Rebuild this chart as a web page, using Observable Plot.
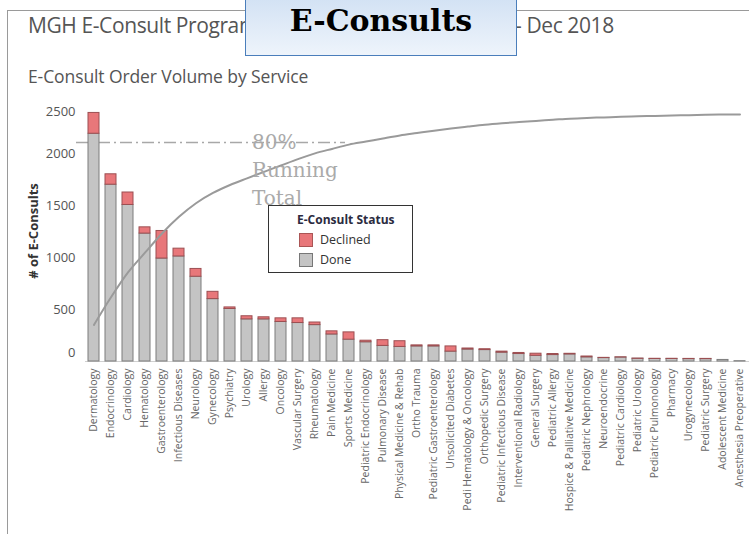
<!DOCTYPE html>
<html><head><meta charset="utf-8">
<script src="https://cdn.jsdelivr.net/npm/d3@7"></script>
<script src="https://cdn.jsdelivr.net/npm/@observablehq/plot@0.6"></script>
<style>
body{margin:0;background:#fff;}
#wrap{position:relative;width:749px;height:534px;overflow:hidden;font-family:"Open Sans",sans-serif;background:#fff;}
#chart{position:absolute;left:0;top:0;}
.frame-top{position:absolute;left:7px;top:10px;width:742px;height:0;border-top:1px solid #9a9a9a;}
.frame-left{position:absolute;left:7px;top:10px;width:0;height:524px;border-left:1px solid #9a9a9a;}
.title{position:absolute;top:11px;font-size:21px;color:#555;white-space:nowrap;letter-spacing:-0.4px;}
.subtitle{position:absolute;left:28px;top:64px;font-size:17.5px;color:#555;white-space:nowrap;letter-spacing:-0.1px;}
.badge{position:absolute;left:245px;top:-2px;width:272px;height:58px;border:1px solid #4a7ebb;
  background:linear-gradient(#d3e2f4,#eef4fb);box-sizing:border-box;text-align:center;
  font-family:"DejaVu Serif",serif;font-weight:bold;font-size:30px;line-height:44px;color:#000;}
.ylabel{position:absolute;left:33px;top:231px;transform:translate(-50%,-50%) rotate(-90deg);font-size:13px;font-weight:bold;color:#333;white-space:nowrap;}
.annot{position:absolute;left:252px;top:128px;font-family:"DejaVu Serif",serif;font-size:20px;line-height:28px;color:#aaa;}
.legend{position:absolute;left:268px;top:205px;width:145px;height:68px;border:1px solid #333;background:#fff;box-sizing:border-box;font-size:12.5px;color:#333;}
.legend .lt{position:absolute;left:28px;top:5px;font-weight:bold;font-size:12px;color:#2b2b3f;}
.legend .row{position:absolute;left:30px;display:flex;align-items:center;}
.legend .sw{width:12px;height:12px;border:1px solid #777;margin-right:7px;}
</style></head>
<body>
<div id="wrap">
  <div class="frame-top"></div>
  <div class="frame-left"></div>
  <div id="chart"></div>
  <div class="title" style="left:28px">MGH E-Consult Program</div>
  <div class="title" style="left:515px">- Dec 2018</div>
  <div class="badge">E-Consults</div>
  <div class="subtitle">E-Consult Order Volume by Service</div>
  <div class="ylabel"># of E-Consults</div>
  <div class="annot">80%<br>Running<br>Total</div>
  <div class="legend">
    <div class="lt">E-Consult Status</div>
    <div class="row" style="top:25px"><div class="sw" style="background:#e8777a;border-color:#a55"></div>Declined</div>
    <div class="row" style="top:45px"><div class="sw" style="background:#c4c4c4"></div>Done</div>
  </div>
</div>
<script>
const services = ["Dermatology","Endocrinology","Cardiology","Hematology","Gastroenterology","Infectious Diseases","Neurology","Gynecology","Psychiatry","Urology","Allergy","Oncology","Vascular Surgery","Rheumatology","Pain Medicine","Sports Medicine","Pediatric Endocrinology","Pulmonary Disease","Physical Medicine & Rehab","Ortho Trauma","Pediatric Gastroenterology","Unsolicited Diabetes","Pedi Hematology & Oncology","Orthopedic Surgery","Pediatric Infectious Disease","Interventional Radiology","General Surgery","Pediatric Allergy","Hospice & Palliative Medicine","Pediatric Nephrology","Neuroendocrine","Pediatric Cardiology","Pediatric Urology","Pediatric Pulmonology","Pharmacy","Urogynecology","Pediatric Surgery","Adolescent Medicine","Anesthesia Preoperative"];
const done = [2190,1700,1505,1230,990,1010,815,600,505,405,405,380,370,350,260,210,185,150,140,145,145,95,115,110,85,72,55,62,68,40,33,38,26,24,24,23,23,15,3];
const declined = [200,100,120,60,265,75,75,70,15,30,20,35,45,25,30,70,15,55,55,10,10,50,10,8,10,10,20,10,6,8,2,2,2,2,2,2,2,0,0];
const statuses = ["Done","Declined"];
const yTicks = [0,500,1000,1500,2000,2500];
const runningTotalAxisMax = 2375;   // secondary (hidden) axis: 100% running total
const eightyPctLine = 2105;          // annotated reference line on the primary axis
const refLineFrom = "Dermatology", refLineTo = "Sports Medicine";

const rows = [];
services.forEach((s,i)=>{
  rows.push({service:s, status:"Done", value:done[i]});
  rows.push({service:s, status:"Declined", value:declined[i]});
});
const totals = services.map((s,i)=>done[i]+declined[i]);
const grand = d3.sum(totals);
const cum = d3.cumsum(totals);
const running = services.map((s,i)=>({service:s, share: cum[i]/grand}));

const fmt = d3.format("d");
const chart = Plot.plot({
  width: 749, height: 534,
  marginLeft: 85, marginRight: 0, marginTop: 101, marginBottom: 173,
  style: {fontFamily: "Open Sans, sans-serif", background: "transparent"},
  x: {domain: services, padding: 0.35, paddingOuter: 0.1, axis: null},
  y: {domain: [0, 2500], axis: null},
  color: {domain: statuses, range: ["#c4c4c4", "#e8777a"]},
  marks: [
    Plot.gridY(yTicks, {stroke: "#e6e6e6", strokeOpacity: 1, x1: 80}),
    Plot.ruleY([0], {stroke: "#d0d0d0"}),
    Plot.ruleY([eightyPctLine], {y: d => d, x1: () => refLineFrom, x2: () => refLineTo, insetLeft: -12, insetRight: 9,
      stroke: "#a8a8a8", strokeWidth: 1.5, strokeDasharray: "12,4,2,4"}),
    Plot.barY(rows, {x: "service", y: "value", fill: "status", order: statuses,
      stroke: d => d.status === "Done" ? "#7d7d7d" : "#9c4f52", strokeWidth: 1}),
    Plot.line(running, {x: "service", y: d => d.share * runningTotalAxisMax,
      stroke: "#9a9a9a", strokeWidth: 2, curve: "monotone-x"}),
    Plot.axisY([500,1000,1500,2000], {tickSize: 0, tickPadding: 10, fontSize: 13, color: "#555", label: null, tickFormat: fmt}),
    Plot.axisY([0], {tickSize: 0, tickPadding: 10, fontSize: 13, color: "#555", label: null, dy: -9, tickFormat: fmt}),
    Plot.axisY([2500], {tickSize: 0, tickPadding: 10, fontSize: 13, color: "#555", label: null, dy: 10, tickFormat: fmt}),
    Plot.axisX({tickRotate: -90, tickSize: 0, tickPadding: 7, fontSize: 10.5, color: "#666", label: null})
  ]
});
document.getElementById("chart").appendChild(chart);
</script>
</body></html>
